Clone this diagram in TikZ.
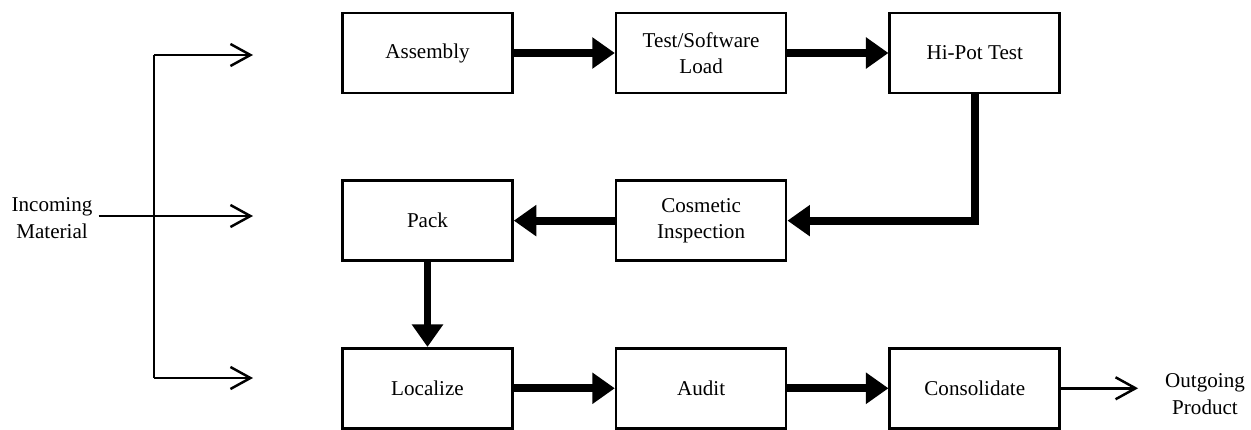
\documentclass[tikz,border=0pt]{standalone}
\usepackage{fontspec}
\setmainfont{Liberation Serif}
\usetikzlibrary{arrows.meta, positioning}

\begin{document}
\begin{tikzpicture}[
  box/.style={rectangle, draw=black, line width=1.5pt, minimum width=3.4cm,
              minimum height=1.6cm, align=center, inner sep=2pt,
              font=\fontsize{12}{15}\selectfont},
  lbl/.style={align=center, font=\fontsize{12}{15}\selectfont},
  arr/.style={-{Triangle[width=0.6cm, length=0.45cm]}, line width=4.5pt},
  tarr/.style={-{Straight Barb[width=0.44cm, length=0.4cm]}, line width=1.4pt},
  node distance=1.7cm and 2.02cm
]
\useasboundingbox (0,0) rectangle (25.02,-8.6);
\node[box] (Asm) at (8.55,-1.06) {Assembly};
\node[box, right=of Asm]  (Test)  {Test/Software\\Load};
\node[box, right=of Test] (HiPot) {Hi-Pot Test};
\node[box, below=of Asm]  (Pack)  {Pack};
\node[box, right=of Pack] (Cos)   {Cosmetic\\Inspection};
\node[box, below=of Pack] (Loc)   {Localize};
\node[box, right=of Loc]  (Aud)   {Audit};
\node[box, right=of Aud]  (Cons)  {Consolidate};
\node[lbl] (In)  at (1.04,-4.36) {Incoming\\Material};
\node[lbl] (Out) at (24.1,-7.88) {Outgoing\\Product};
% incoming material split
\coordinate (J1) at (3.08,-1.1);
\coordinate (J2) at (3.08,-4.32);
\coordinate (J3) at (3.08,-7.56);
\coordinate (E1) at (5.06,-1.1);
\coordinate (E2) at (5.06,-4.32);
\coordinate (E3) at (5.06,-7.56);
\coordinate (E4) at ([xshift=1.54cm]Cons.east);
\draw[line width=1.4pt] (J1) -- (J3);
\draw[tarr] (J1) -- (E1);
\draw[tarr] (In.east |- J2) -- (E2);
\draw[tarr] (J3) -- (E3);
% process flow
\draw[arr] (Asm) -- (Test);
\draw[arr] (Test) -- (HiPot);
\draw[arr] (HiPot.south) |- (Cos.east);
\draw[arr] (Cos) -- (Pack);
\draw[arr] (Pack) -- (Loc);
\draw[arr] (Loc) -- (Aud);
\draw[arr] (Aud) -- (Cons);
\draw[tarr] (Cons.east) -- (E4);
\end{tikzpicture}
\end{document}
